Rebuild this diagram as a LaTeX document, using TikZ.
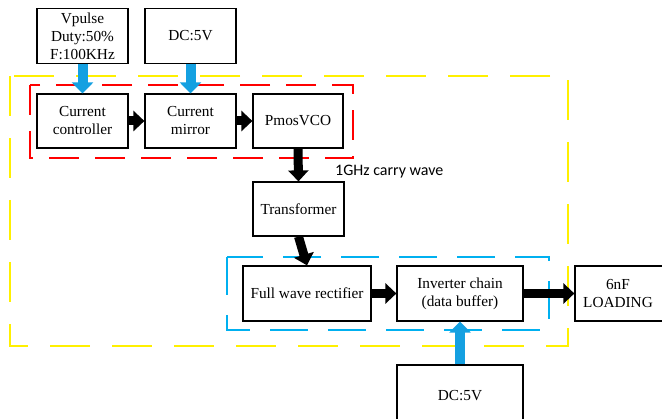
\documentclass[tikz,border=0pt]{standalone}
\usepackage{fontspec}
\setmainfont{Liberation Serif}
\newfontfamily\labelfont{Carlito}
\usetikzlibrary{arrows.meta}
\definecolor{ylw}{RGB}{255,240,0}
\definecolor{rd}{RGB}{255,0,0}
\definecolor{bl}{RGB}{0,176,240}
\definecolor{barrow}{RGB}{20,160,225}
\tikzset{
  blk/.style={draw=black, line width=1.2pt, fill=white, align=center, inner sep=0pt,
    font=\fontsize{15.3}{18}\selectfont},
  blackarrow/.style={line width=9pt, black, -{Triangle[width=20pt,length=11pt]}},
  bluearrow/.style={line width=10pt, barrow, -{Triangle[width=21pt,length=11pt]}},
  ybox/.style={draw=ylw, line width=2.5pt, dash pattern=on 40pt off 22pt},
  rbox/.style={draw=rd, line width=2pt, dash pattern=on 30pt off 16pt},
  bbox/.style={draw=bl, line width=2pt, dash pattern=on 38pt off 20pt},
}
\begin{document}
\begin{tikzpicture}[x=1pt,y=-1pt]
\useasboundingbox (0,0) rectangle (662,419);
% dashed group frames
\draw[ybox] (10,76) rectangle (568,346);
\draw[rbox] (30,85) rectangle (353,158);
\draw[bbox] (227,257) rectangle (549,330);
% blocks
\node[blk, minimum width=91pt, minimum height=55pt] (vp) at (82.5,36) {Vpulse\\Duty:50\%\\F:100KHz};
\node[blk, minimum width=91pt, minimum height=55pt] (dc1) at (190.5,36) {DC:5V};
\node[blk, minimum width=91pt, minimum height=54pt] (cc) at (82.5,121) {Current\\controller};
\node[blk, minimum width=91pt, minimum height=54pt] (cm) at (190.5,121) {Current\\mirror};
\node[blk, minimum width=90pt, minimum height=54pt] (vco) at (298,121) {PmosVCO};
\node[blk, minimum width=91pt, minimum height=54pt] (tr) at (298.5,209) {Transformer};
\node[blk, minimum width=128pt, minimum height=55pt] (fw) at (307,293.5) {Full wave rectifier};
\node[blk, minimum width=126pt, minimum height=55pt] (inv) at (460,293.5) {Inverter chain\\(data buffer)};
\node[blk, minimum width=124pt, minimum height=55pt, text width=86pt, align=center] (ld) at (637,293.5) {\hspace*{-38pt}6nF\\\hspace*{-38pt}LOADING};
\node[blk, minimum width=126pt, minimum height=64pt] (dc2) at (460,397) {\raisebox{4pt}{DC:5V}};
\node[anchor=west, inner sep=0pt, font=\labelfont\fontsize{16}{18}\selectfont] (lbl) at (335,172) {1GHz carry wave};
% connectors
\draw[bluearrow] (vp.south) -- (cc.north);
\draw[bluearrow] (dc1.south) -- (cm.north);
\draw[bluearrow] (dc2.north) -- (inv.south);
\draw[blackarrow] (cc.east) -- (cm.west);
\draw[blackarrow] (cm.east) -- (vco.west);
\draw[blackarrow] (vco.south) -- (tr.north);
\draw[blackarrow] (tr.south) -- (fw.north);
\draw[blackarrow] (fw.east) -- (inv.west);
\draw[blackarrow] (inv.east) -- (ld.west);
\end{tikzpicture}
\end{document}
